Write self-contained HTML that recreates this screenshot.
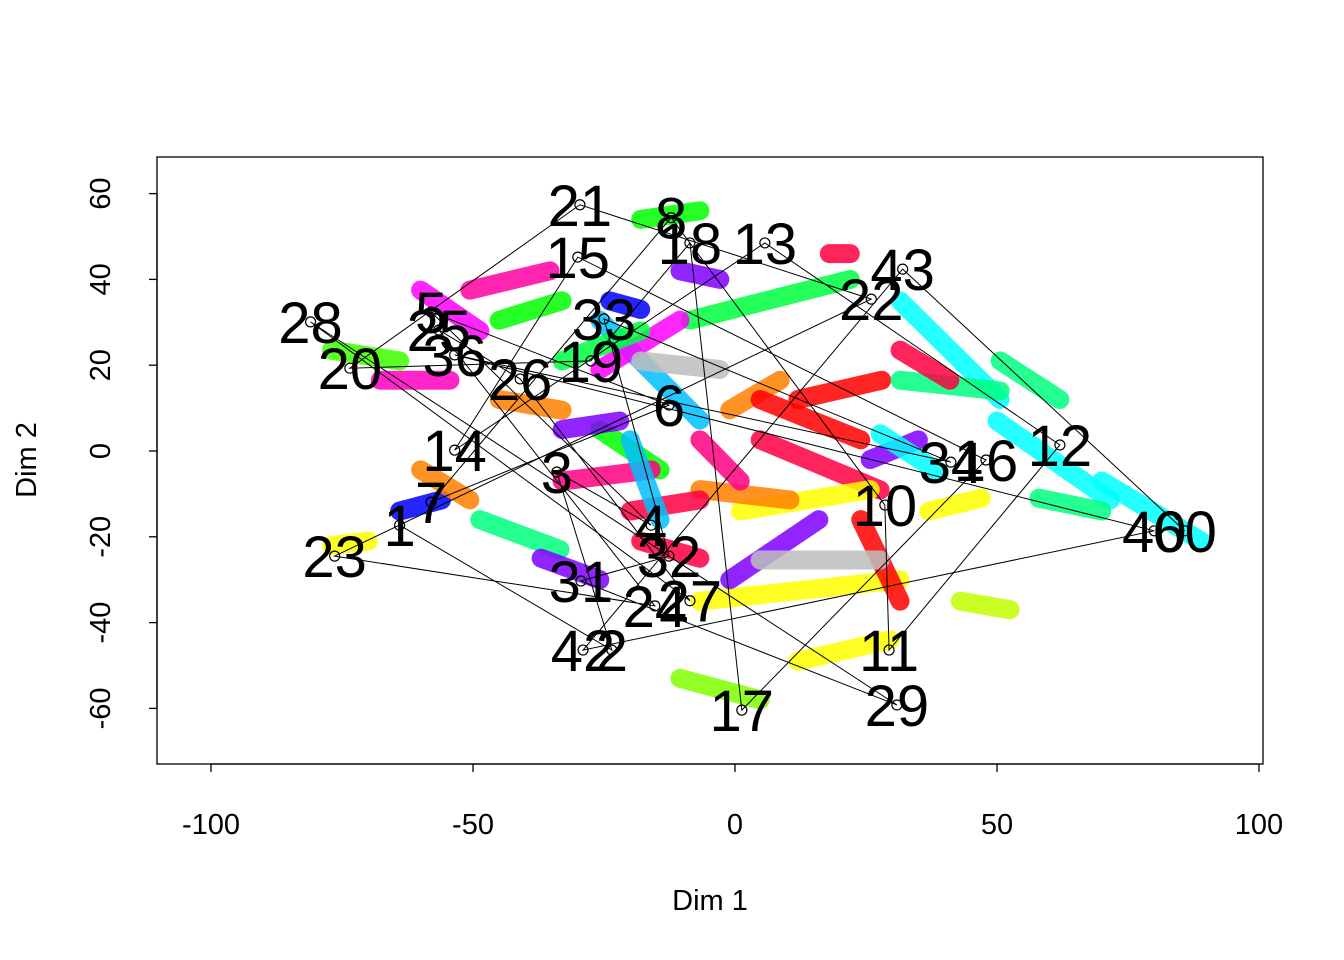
<!DOCTYPE html>
<html><head><meta charset="utf-8"><style>
html,body{margin:0;padding:0;background:#fff}
svg{display:block;font-family:"Liberation Sans",Arial,sans-serif}
</style></head><body>
<svg id="chart" width="1344" height="960" viewBox="0 0 1344 960" xmlns="http://www.w3.org/2000/svg">
<rect x="0" y="0" width="1344" height="960" fill="#fff"/>
<g id="streaks"></g>
<g id="path"></g>
<g id="cents"></g>
<rect x="157" y="157" width="1106" height="607" fill="none" stroke="#000" stroke-width="1.3"/>
<g id="axes"></g>
<text x="710" y="910" font-size="29" text-anchor="middle">Dim 1</text>
<text x="0" y="0" font-size="29" text-anchor="middle" transform="translate(36,460) rotate(-90)">Dim 2</text>
</svg>
<script>
const xTicks=[-100,-50,0,50,100];
const yTicks=[-60,-40,-20,0,20,40,60];
// point-cloud streaks: x1,y1,x2,y2 in data units
const streakX1=[4.8,12,18,-25.8,31.5,50,70,-6.7,12,1,37,-45,-6.7,-1,-18,-8.6,31.5,-10.5,-77,-48.7,-25.8,-25.8,-67.7,-50.6,-10.5,-37,-1,-33,-23.9,-64,-20,24,-18,4.8,43,-77,-33,58,4.8,-60,-20,-60,-45,-33,-6.7,25.8,27.7,50.6,31.5,-18];
const streakY1=[2.6,12,46,30.5,35,7,-7,-35,-49,-14,-14,12,-9,9.6,54,30.5,16.5,-53,23.5,-16,5,19,16.5,37.5,42,-25,-30,5,35,-14,-14,-16,21,-25.4,-35,-22,-7,-11,12,37.5,2.6,-4.4,30.5,21,2.6,-2,4,21,23.5,-21];
const streakX2=[27.7,28,22,-6.7,50.6,71.6,89,31.5,29.6,25.8,47,-33,10.5,8.6,-6.7,22,50.6,4.8,-64,-33.4,-14.3,-10.5,-54.4,-35.3,-2.9,-25.8,16,-22,-18,-56,-6.7,31.5,-2.9,27.7,52.5,-70,-16,70,24,-48.7,-14.3,-50.6,-33,-18,1,35,39,62,41,-6.7];
const streakY2=[-9.1,16.5,46,7.2,12,-11.4,-21,-30,-44,-9,-11,9.5,-11.4,16.5,56,40,14,-58,21,-23,-4.4,30.5,16.5,42,40,-30,-16,7,33,-11.4,-11.4,-35,19,-25.4,-37,-21,-4.4,-14,2.6,28,-16,-11.4,35,28,-7,2.6,-5,12,16.5,-25];
const streakCol=["#FF0040","#FF0000","#FF0040","#00BFFF","#00FFFF","#00FFFF","#00FFFF","#FFFF00","#FFFF00","#FFFF00","#FFFF00","#FF8000","#FF8000","#FF8000","#00FF00","#00FF40","#00FF80","#80FF00","#40FF00","#00FF80","#00FF00","#FF00FF","#FF00C0","#FF00A0","#8000FF","#8000FF","#8000FF","#8000FF","#0000FF","#0000FF","#FF0040","#FF0000","#BEBEBE","#BEBEBE","#C0FF00","#FFFF00","#FF0080","#00FF80","#FF0000","#FF00FF","#00BFFF","#FF8000","#00FF00","#00FF40","#FF0080","#8000FF","#00FFFF","#00FF80","#FF0040","#FF0040"];
// centroids
const centLabel=["21","8","18","13","15","43","22","28","5","25","33","36","20","26","19","6","14","3","34","16","12","10","7","1","4","40","60","23","32","31","24","27","42","2","11","17","29"];
const centX=[-29.6,-12.2,-8.6,5.7,-30,32,26,-81,-58,-56.5,-25,-53.5,-73.5,-41,-27.5,-12.6,-53.5,-34,41.2,47.9,62,28.6,-58,-64,-16,80,85.8,-76.4,-12.6,-29.4,-15.3,-8.6,-29,-23.5,29.4,1.3,30.9];
const centY=[57.4,54.4,48.5,48.5,45.2,42.4,35.4,30.1,32.4,28.2,30.8,22.4,19.3,16.8,21,10.7,0.2,-4.9,-2.6,-2.1,1.4,-12.6,-11.9,-17.3,-17.3,-18.6,-18.6,-24.5,-24.5,-30.3,-36.1,-34.9,-46.4,-46.4,-46.4,-60.4,-59.2];
const pathOrder=["1","2","3","4","5","6","7","8","10","11","12","13","14","15","16","17","18","19","20","21","22","23","24","25","26","27","28","29","31","32","33","34","36","40","42","43","60"];

const X=v=>735+v*5.24, Y=v=>451-v*4.29;
const NS="http://www.w3.org/2000/svg";
const mk=(t,p,a)=>{const e=document.createElementNS(NS,t);for(const k in a)e.setAttribute(k,a[k]);p.appendChild(e);return e;};
const sg=document.getElementById('streaks');
for(let i=0;i<streakX1.length;i++){
  const l=mk('line',sg,{x1:X(streakX1[i]),y1:Y(streakY1[i]),x2:X(streakX2[i]),y2:Y(streakY2[i]),stroke:streakCol[i],'stroke-width':19,'stroke-linecap':'round',opacity:0.85});
  
  
}
const pg=document.getElementById('path');
const pts=pathOrder.map(l=>{const i=centLabel.indexOf(l);return X(centX[i])+','+Y(centY[i]);}).join(' ');
const pl=mk('polyline',pg,{points:pts,fill:'none',stroke:'#000','stroke-width':1});


const cg=document.getElementById('cents');
for(let i=0;i<centLabel.length;i++){
  const c=mk('circle',cg,{cx:X(centX[i]),cy:Y(centY[i]),r:5,fill:'none',stroke:'#000','stroke-width':1.2});
  
  
  const t=mk('text',cg,{x:X(centX[i]),y:Y(centY[i])+21,'font-size':58,'text-anchor':'middle',fill:'#000'});
  t.textContent=centLabel[i];
  
  
}
const ag=document.getElementById('axes');
mk('line',ag,{x1:X(-100),x2:X(100),y1:764,y2:764,stroke:'#000','stroke-width':1.3});
xTicks.forEach(v=>{
  mk('line',ag,{x1:X(v),x2:X(v),y1:764,y2:772,stroke:'#000','stroke-width':1.3});
  const t=mk('text',ag,{x:X(v),y:834,'font-size':29,'text-anchor':'middle'});
  t.textContent=v;
  
  
});
mk('line',ag,{x1:157,x2:157,y1:Y(-60),y2:Y(60),stroke:'#000','stroke-width':1.3});
yTicks.forEach(v=>{
  mk('line',ag,{x1:149,x2:157,y1:Y(v),y2:Y(v),stroke:'#000','stroke-width':1.3});
  const t=mk('text',ag,{x:0,y:0,'font-size':29,'text-anchor':'middle',transform:`translate(110,${Y(v)}) rotate(-90)`});
  t.textContent=v;
  
  
});
</script>
</body></html>
